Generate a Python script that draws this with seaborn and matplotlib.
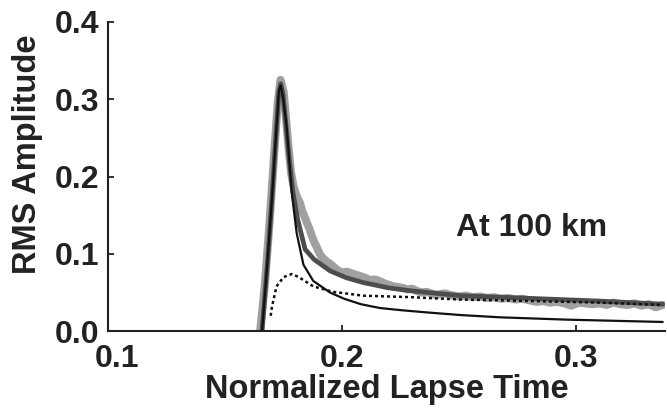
import matplotlib
matplotlib.use("Agg")
import matplotlib.pyplot as plt
import matplotlib.transforms as mtransforms
import seaborn as sns

# observed envelope (noisy, light gray)
t_obs = [0.1650, 0.1670, 0.1690, 0.1710, 0.1725, 0.1737, 0.1750, 0.1762, 0.1772, 0.1782,
         0.1792, 0.1800, 0.1810, 0.1820, 0.1830, 0.1840, 0.1850, 0.1860, 0.1870, 0.1880,
         0.1890, 0.1900, 0.1910, 0.1920, 0.1935, 0.1950, 0.1965, 0.1980, 0.2000, 0.2020,
         0.2040, 0.2060, 0.2080, 0.2100, 0.2120, 0.2140, 0.2160, 0.2180, 0.2200, 0.2220,
         0.2240, 0.2260, 0.2280, 0.2300, 0.2320, 0.2340, 0.2360, 0.2380, 0.2400, 0.2420,
         0.2440, 0.2460, 0.2480, 0.2500, 0.2530, 0.2560, 0.2590, 0.2620, 0.2650, 0.2680,
         0.2710, 0.2740, 0.2770, 0.2800, 0.2830, 0.2860, 0.2890, 0.2920, 0.2950, 0.2980,
         0.3010, 0.3040, 0.3070, 0.3100, 0.3130, 0.3160, 0.3190, 0.3220, 0.3250, 0.3280,
         0.3310, 0.3340, 0.3370]
rms_obs = [0.000, 0.060, 0.140, 0.230, 0.295, 0.325, 0.310, 0.270, 0.235, 0.205,
           0.188, 0.180, 0.172, 0.166, 0.155, 0.148, 0.140, 0.133, 0.124, 0.116,
           0.110, 0.103, 0.097, 0.094, 0.090, 0.087, 0.083, 0.079, 0.076, 0.077,
           0.075, 0.073, 0.071, 0.069, 0.066, 0.067, 0.065, 0.062, 0.060, 0.058,
           0.057, 0.056, 0.054, 0.055, 0.052, 0.050, 0.051, 0.049, 0.047, 0.048,
           0.049, 0.047, 0.046, 0.045, 0.046, 0.044, 0.045, 0.043, 0.044, 0.042,
           0.043, 0.041, 0.042, 0.040, 0.038, 0.039, 0.037, 0.038, 0.036, 0.033,
           0.037, 0.036, 0.035, 0.036, 0.034, 0.037, 0.035, 0.034, 0.036, 0.033,
           0.035, 0.031, 0.034]

# total model (thick dark gray)
t_total = [0.1658, 0.1680, 0.1700, 0.1720, 0.1730, 0.1738, 0.1748, 0.1760, 0.1775, 0.1790,
           0.1810, 0.1842, 0.1880, 0.1949, 0.2020, 0.2090, 0.2200, 0.2303, 0.2504, 0.2675,
           0.3100, 0.3370]
rms_total = [0.000, 0.085, 0.170, 0.265, 0.310, 0.320, 0.305, 0.268, 0.220, 0.180,
             0.145, 0.106, 0.093, 0.078, 0.069, 0.063, 0.056, 0.052, 0.046, 0.044,
             0.039, 0.035]

# single scattering (thin black)
t_single = [0.1658, 0.1680, 0.1700, 0.1720, 0.1730, 0.1738, 0.1748, 0.1763, 0.1774, 0.1785,
            0.1806, 0.1835, 0.1877, 0.1949, 0.2009, 0.2080, 0.2162, 0.2260, 0.2376, 0.2504,
            0.2675, 0.2960, 0.3370]
rms_single = [0.000, 0.085, 0.170, 0.265, 0.310, 0.318, 0.302, 0.265, 0.222, 0.179,
              0.127, 0.086, 0.065, 0.050, 0.042, 0.035, 0.030, 0.027, 0.024, 0.021,
              0.018, 0.015, 0.012]

# multiple scattering (dotted)
t_multi = [0.1695, 0.1700, 0.1720, 0.1750, 0.1785, 0.1815, 0.1877, 0.1960, 0.2090, 0.2300,
           0.2504, 0.2675, 0.3100, 0.3370]
rms_multi = [0.020, 0.031, 0.058, 0.070, 0.074, 0.070, 0.058, 0.051, 0.046, 0.044,
             0.041, 0.040, 0.037, 0.034]

sns.set_style("ticks")
plt.rcParams['font.family'] = ['Liberation Sans', 'DejaVu Sans']
plt.rcParams['font.weight'] = 'bold'

fig = plt.figure(figsize=(6.67, 4.12), dpi=100)
ax = fig.add_axes([0.162, 0.196, 0.835, 0.751])

sns.lineplot(x=t_obs, y=rms_obs, ax=ax, color='#a0a0a0', linewidth=5.8, sort=False)
sns.lineplot(x=t_total, y=rms_total, ax=ax, color='#4d4d4d', linewidth=3.4, sort=False)
sns.lineplot(x=t_single, y=rms_single, ax=ax, color='#111111', linewidth=1.6, sort=False)
sns.lineplot(x=t_multi, y=rms_multi, ax=ax, color='#111111', linewidth=1.8, sort=False,
             linestyle=(0, (1.2, 1.2)))

ax.set_xlim(0.1, 0.338)
ax.set_ylim(0, 0.4)
ax.set_xticks([0.1, 0.2, 0.3])
ax.set_yticks([0.0, 0.1, 0.2, 0.3, 0.4])
ax.set_xticklabels(['0.1', '0.2', '0.3'])
ax.set_yticklabels(['0.0', '0.1', '0.2', '0.3', '0.4'])
ax.tick_params(direction='in', length=4, width=1.3, labelsize=23, colors='#222222')
ax.tick_params(axis='x', pad=9)
ax.tick_params(axis='y', pad=6)
for lab in ax.get_xticklabels() + ax.get_yticklabels():
    lab.set_fontweight('bold')
# first x label sits a little right of the corner in the original
xl0 = ax.get_xticklabels()[0]
xl0.set_transform(xl0.get_transform() + mtransforms.ScaledTranslation(0.09, 0, fig.dpi_scale_trans))

sns.despine(ax=ax)
for s in ['left', 'bottom']:
    ax.spines[s].set_linewidth(1.5)
    ax.spines[s].set_color('#222222')

ax.set_xlabel('Normalized Lapse Time', fontsize=23.5, fontweight='bold', color='#222222')
ax.set_ylabel('RMS Amplitude', fontsize=23.5, fontweight='bold', color='#222222')
ax.xaxis.set_label_coords(0.5, -0.187)
ax.yaxis.set_label_coords(-0.144, 0.571)
ax.xaxis.label.set_va('center')
ax.yaxis.label.set_va('center')

ax.text(0.2808, 0.1226, 'At 100 km', fontsize=23, fontweight='bold', color='#222222',
        ha='center', va='baseline')

fig.savefig('out.png', dpi=100)
